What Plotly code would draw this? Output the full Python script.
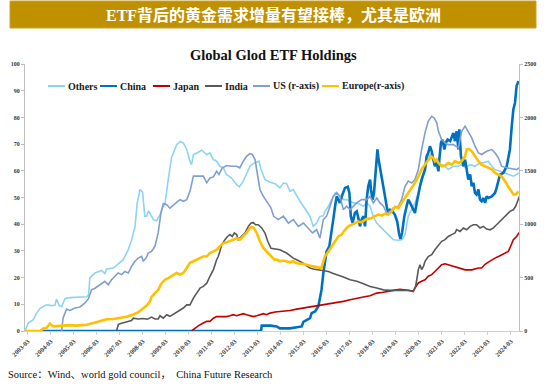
import plotly.graph_objects as go
import pandas as pd

# ---------------- data (decimal year, value) ----------------
others_t = [2003.04, 2003.18, 2003.40, 2003.54, 2003.70, 2003.83, 2003.98, 2004.20, 2004.34, 2004.41,
            2004.53, 2004.63, 2004.78, 2004.99, 2005.40, 2005.72, 2005.80, 2005.86, 2006.08, 2006.37,
            2006.51, 2006.59, 2006.88, 2007.09, 2007.31, 2007.53, 2007.67, 2007.82, 2007.92, 2008.04,
            2008.15, 2008.25, 2008.33, 2008.41, 2008.62, 2008.76, 2008.91, 2009.05, 2009.12, 2009.27,
            2009.41, 2009.63, 2009.78, 2009.92, 2010.07, 2010.21, 2010.28, 2010.36, 2010.50, 2010.72,
            2010.94, 2011.08, 2011.23, 2011.37, 2011.51, 2011.66, 2011.80, 2012.02, 2012.24, 2012.36,
            2012.53, 2012.67, 2012.82, 2012.96, 2013.21, 2013.30, 2013.47, 2013.69, 2013.91, 2014.12,
            2014.27, 2014.41, 2014.56, 2014.70, 2014.85, 2014.99, 2015.14, 2015.28, 2015.43, 2015.57,
            2015.72, 2015.86, 2016.01, 2016.08, 2016.23, 2016.37, 2016.52, 2016.59, 2016.73, 2016.88,
            2017.02, 2017.17, 2017.31, 2017.46, 2017.60, 2017.75, 2017.89, 2018.04, 2018.18, 2018.33,
            2018.47, 2018.62, 2018.76, 2018.91, 2019.05, 2019.27, 2019.41, 2019.56, 2019.70, 2019.85,
            2019.99, 2020.14, 2020.28, 2020.43, 2020.57, 2020.72, 2020.79, 2020.94, 2021.01, 2021.15,
            2021.30, 2021.44, 2021.66, 2021.88, 2022.02, 2022.17, 2022.39, 2022.60, 2022.82, 2022.96,
            2023.18, 2023.33, 2023.47, 2023.69, 2023.91, 2024.12, 2024.27, 2024.41, 2024.52]
others_v = [0, 3.0, 4.2, 6.7, 8.5, 9.2, 9.8, 9.5, 9.6, 12.0,
            9.5, 9.0, 12.2, 12.5, 12.6, 12.8, 13.5, 20.0, 21.7, 22.7,
            21.5, 23.2, 23.6, 25.2, 26.7, 30.5, 34.0, 39.0, 48.0, 53.0,
            52.0, 43.0, 43.0, 45.0, 41.7, 41.3, 43.6, 46.7, 47.5, 57.0,
            65.0, 69.8, 71.0, 70.5, 68.0, 63.6, 62.3, 66.0, 66.7, 67.7,
            66.0, 66.7, 64.2, 63.6, 61.7, 61.1, 58.6, 57.3, 54.8, 54.0,
            56.1, 58.6, 61.7, 62.7, 63.6, 60.5, 56.7, 55.7, 55.2, 53.6,
            55.4, 55.2, 52.3, 53.0, 50.4, 48.6, 46.7, 44.8, 42.9, 39.2,
            40.4, 42.9, 43.2, 44.8, 46.7, 49.2, 51.7, 52.0, 50.4, 49.2,
            49.2, 48.6, 48.0, 48.0, 47.3, 46.7, 48.0, 46.7, 42.9, 40.4,
            39.2, 37.9, 36.7, 35.4, 34.2, 34.0, 34.2, 36.0, 43.0, 45.5,
            48.0, 51.7, 55.5, 60.5, 65.4, 66.7, 64.2, 63.0, 61.7, 62.3,
            61.7, 60.5, 61.7, 61.7, 62.3, 61.1, 62.3, 61.7, 63.0, 63.0,
            63.6, 61.7, 60.5, 59.8, 59.2, 58.6, 58.0, 58.6, 59.2]

china_t = [2003.80, 2013.30, 2013.33, 2013.70, 2013.98, 2014.12, 2014.56, 2014.85, 2015.07, 2015.14,
           2015.28, 2015.43, 2015.50, 2015.65, 2015.79, 2015.86, 2015.93, 2016.01, 2016.08, 2016.15,
           2016.27, 2016.37, 2016.44, 2016.52, 2016.59, 2016.66, 2016.73, 2016.81, 2016.88, 2016.95,
           2017.07, 2017.14, 2017.20, 2017.28, 2017.38, 2017.46, 2017.53, 2017.60, 2017.67, 2017.75,
           2017.82, 2017.89, 2017.96, 2018.04, 2018.08, 2018.15, 2018.21, 2018.30, 2018.36, 2018.41,
           2018.50, 2018.59, 2018.69, 2018.76, 2018.83, 2018.91, 2019.02, 2019.12, 2019.22, 2019.30,
           2019.36, 2019.43, 2019.53, 2019.63, 2019.70, 2019.78, 2019.85, 2019.99, 2020.07, 2020.14,
           2020.21, 2020.28, 2020.36, 2020.43, 2020.50, 2020.57, 2020.645, 2020.72, 2020.79, 2020.86,
           2020.94, 2021.01, 2021.05, 2021.12, 2021.18, 2021.27, 2021.33, 2021.41, 2021.52, 2021.59,
           2021.66, 2021.73, 2021.80, 2021.88, 2021.92, 2021.99, 2022.10, 2022.17, 2022.24, 2022.31,
           2022.39, 2022.46, 2022.53, 2022.60, 2022.67, 2022.75, 2022.82, 2022.89, 2022.96, 2023.04,
           2023.11, 2023.18, 2023.33, 2023.47, 2023.54, 2023.62, 2023.69, 2023.83, 2023.98, 2024.05,
           2024.12, 2024.20, 2024.27, 2024.34, 2024.41, 2024.49]
china_v = [0, 0, 2.0, 2.0, 1.7, 1.0, 1.0, 1.3, 1.7, 3.4,
           4.2, 4.8, 6.7, 7.3, 9.2, 11.7, 15.4, 21.7, 26.7, 29.8,
           31.7, 36.7, 41.7, 46.7, 50.4, 49.2, 48.0, 50.4, 52.3, 53.6,
           54.0, 51.7, 43.0, 40.5, 44.2, 44.8, 42.3, 39.2, 41.7, 43.0,
           39.2, 49.2, 54.2, 56.7, 53.0, 49.2, 51.7, 61.7, 68.0, 64.2,
           59.2, 54.2, 50.4, 46.7, 44.2, 45.4, 44.8, 43.5, 41.0, 36.5,
           34.5, 36.7, 43.0, 46.7, 49.2, 48.0, 46.7, 44.2, 48.0, 51.7,
           54.2, 56.7, 59.2, 60.5, 65.4, 66.7, 69.2, 67.3, 64.2, 61.7,
           63.0, 59.8, 64.2, 70.5, 71.7, 68.0, 70.5, 71.7, 71.1, 72.9,
           74.2, 71.1, 74.8, 68.0, 75.5, 65.4, 61.7, 64.2, 60.5, 56.7,
           58.6, 54.2, 55.5, 51.7, 51.1, 53.0, 49.2, 48.6, 49.8, 48.0,
           50.4, 49.8, 50.4, 51.7, 53.6, 56.7, 58.6, 59.2, 61.7, 64.8,
           68.0, 76.7, 83.0, 85.4, 91.7, 93.6]

japan_t = [2010.28, 2010.43, 2010.57, 2010.79, 2010.94, 2011.08, 2011.23, 2011.37, 2011.51, 2011.66,
           2011.80, 2011.95, 2012.09, 2012.24, 2012.38, 2012.53, 2012.67, 2012.82, 2012.96, 2013.11,
           2013.25, 2013.40, 2013.54, 2013.69, 2013.91, 2014.27, 2014.56, 2014.85, 2015.14, 2015.43,
           2015.72, 2016.01, 2016.30, 2016.59, 2016.88, 2017.17, 2017.46, 2017.75, 2018.04, 2018.33,
           2018.62, 2018.91, 2019.12, 2019.34, 2019.56, 2019.78, 2019.92, 2020.02, 2020.14, 2020.28,
           2020.43, 2020.57, 2020.72, 2020.86, 2021.01, 2021.15, 2021.30, 2021.44, 2021.59, 2021.73,
           2021.88, 2022.02, 2022.17, 2022.46, 2022.60, 2022.75, 2022.89, 2023.04, 2023.18, 2023.33,
           2023.47, 2023.62, 2023.76, 2023.91, 2024.05, 2024.12, 2024.27, 2024.41, 2024.53]
japan_v = [0, 1.1, 1.9, 3.0, 3.6, 3.6, 4.8, 5.4, 5.4, 5.2,
           5.4, 5.7, 6.1, 5.7, 6.1, 6.5, 6.1, 5.7, 5.4, 5.7,
           6.1, 6.5, 6.1, 6.7, 7.1, 7.3, 7.7, 8.2, 8.6, 9.0,
           9.5, 9.8, 10.2, 10.7, 11.1, 11.7, 12.1, 12.7, 13.2, 14.2,
           14.5, 14.8, 15.3, 15.6, 15.4, 15.4, 15.0, 16.5, 18.0, 18.6,
           19.2, 20.5, 21.1, 22.3, 23.6, 24.8, 25.2, 24.8, 24.4, 24.2,
           23.6, 23.2, 22.9, 22.9, 23.2, 23.6, 23.6, 25.0, 25.8, 26.7,
           27.3, 27.9, 28.6, 29.2, 29.8, 31.1, 34.2, 35.4, 36.9]

india_t = [2007.02, 2007.10, 2007.24, 2007.46, 2007.67, 2007.75, 2007.96, 2008.18, 2008.36, 2008.54,
           2008.69, 2008.83, 2008.91, 2009.05, 2009.20, 2009.34, 2009.56, 2009.78, 2009.92, 2010.07,
           2010.21, 2010.36, 2010.50, 2010.65, 2010.79, 2010.94, 2011.08, 2011.23, 2011.37, 2011.44,
           2011.51, 2011.59, 2011.73, 2011.84, 2011.95, 2012.05, 2012.14, 2012.24, 2012.31, 2012.46,
           2012.60, 2012.75, 2012.86, 2012.96, 2013.06, 2013.18, 2013.33, 2013.47, 2013.59, 2013.73,
           2013.91, 2014.12, 2014.27, 2014.41, 2014.56, 2014.70, 2014.85, 2014.99, 2015.14, 2015.28,
           2015.43, 2015.57, 2015.79, 2016.01, 2016.23, 2016.44, 2016.66, 2016.88, 2017.17, 2017.46,
           2017.75, 2018.04, 2018.33, 2018.62, 2018.91, 2019.20, 2019.41, 2019.70, 2019.92, 2020.02,
           2020.07, 2020.14, 2020.21, 2020.28, 2020.36, 2020.43, 2020.57, 2020.72, 2020.86, 2021.01,
           2021.15, 2021.30, 2021.44, 2021.59, 2021.73, 2021.80, 2021.95, 2022.10, 2022.24, 2022.39,
           2022.53, 2022.67, 2022.82, 2022.96, 2023.11, 2023.26, 2023.40, 2023.54, 2023.69, 2023.83,
           2023.98, 2024.12, 2024.27, 2024.37, 2024.45, 2024.53]
india_v = [0, 2.5, 2.9, 3.5, 3.9, 4.8, 4.5, 4.7, 4.4, 5.2,
           4.5, 4.5, 5.7, 4.8, 6.1, 5.5, 6.7, 7.7, 8.6, 9.8,
           9.8, 12.3, 14.2, 16.1, 16.7, 17.9, 20.5, 23.0, 26.7, 27.9,
           29.8, 32.3, 34.2, 35.4, 36.1, 35.4, 36.7, 36.1, 34.2, 35.4,
           36.7, 39.2, 40.4, 40.7, 39.8, 39.8, 38.6, 36.7, 33.6, 31.0,
           30.8, 30.4, 29.8, 29.2, 28.2, 27.3, 26.7, 26.1, 25.4, 24.4,
           23.6, 23.2, 22.9, 22.7, 22.3, 21.5, 20.7, 20.2, 19.2, 18.6,
           17.7, 16.7, 16.1, 15.4, 15.2, 15.2, 15.1, 15.2, 14.8, 16.7,
           19.2, 23.0, 24.8, 23.0, 24.2, 26.1, 27.9, 28.6, 30.4, 32.3,
           33.6, 34.2, 35.4, 36.1, 36.7, 38.0, 37.3, 38.6, 37.9, 39.2,
           39.8, 39.8, 38.6, 39.2, 38.2, 37.9, 38.6, 39.8, 41.0, 42.3,
           43.5, 44.8, 45.4, 46.7, 48.5, 50.4]

# US and Europe in tonnes (right axis)
us_t = [2004.63, 2004.70, 2004.85, 2004.99, 2005.21, 2005.43, 2005.65, 2005.79, 2005.93, 2006.08,
        2006.30, 2006.51, 2006.66, 2006.80, 2006.95, 2007.09, 2007.24, 2007.38, 2007.53, 2007.67,
        2007.82, 2007.96, 2008.11, 2008.18, 2008.30, 2008.40, 2008.54, 2008.69, 2008.83, 2008.95,
        2009.05, 2009.20, 2009.34, 2009.49, 2009.63, 2009.78, 2009.92, 2010.07, 2010.21, 2010.36,
        2010.50, 2010.65, 2010.79, 2010.94, 2011.08, 2011.23, 2011.37, 2011.47, 2011.62, 2011.81,
        2012.02, 2012.24, 2012.38, 2012.53, 2012.67, 2012.82, 2012.92, 2013.04, 2013.15, 2013.25,
        2013.40, 2013.54, 2013.73, 2013.85, 2014.05, 2014.27, 2014.49, 2014.70, 2014.92, 2015.14,
        2015.36, 2015.54, 2015.72, 2015.86, 2016.01, 2016.15, 2016.30, 2016.44, 2016.59, 2016.73,
        2016.88, 2017.02, 2017.17, 2017.31, 2017.46, 2017.67, 2017.89, 2018.04, 2018.18, 2018.33,
        2018.47, 2018.62, 2018.76, 2018.91, 2019.05, 2019.27, 2019.41, 2019.56, 2019.70, 2019.85,
        2019.99, 2020.14, 2020.28, 2020.43, 2020.57, 2020.72, 2020.83, 2020.94, 2021.01, 2021.15,
        2021.30, 2021.44, 2021.66, 2021.88, 2022.02, 2022.17, 2022.31, 2022.46, 2022.60, 2022.75,
        2022.89, 2023.11, 2023.33, 2023.47, 2023.62, 2023.76, 2023.98, 2024.20, 2024.41, 2024.52]
us_v = [0, 125, 205, 193, 215, 225, 263, 300, 385, 400,
        433, 465, 433, 480, 513, 543, 528, 558, 543, 605,
        653, 683, 698, 653, 683, 730, 745, 793, 918, 1105,
        1193, 1183, 1150, 1183, 1205, 1230, 1215, 1230, 1308, 1450,
        1450, 1455, 1450, 1388, 1433, 1443, 1495, 1465, 1528, 1550,
        1543, 1543, 1528, 1590, 1635, 1660, 1653, 1605, 1465, 1325,
        1260, 1215, 1153, 1074, 1043, 1075, 1011, 1043, 980, 1011,
        965, 918, 949, 870, 1043, 1075, 1168, 1261, 1293, 1261,
        1136, 1168, 1136, 1168, 1199, 1230, 1230, 1261, 1199, 1245,
        1199, 1168, 1105, 1120, 1153, 1168, 1230, 1355, 1403, 1386,
        1418, 1511, 1699, 1855, 1965, 2011, 1995, 1949, 1870, 1793,
        1761, 1745, 1745, 1715, 1870, 1918, 1870, 1808, 1730, 1668,
        1653, 1683, 1699, 1668, 1620, 1543, 1528, 1518, 1511, 1528]

europe_t = [2003.04, 2003.69, 2003.83, 2003.98, 2004.12, 2004.20, 2004.27, 2004.70, 2004.99, 2005.28,
            2005.72, 2006.01, 2006.30, 2006.59, 2006.88, 2007.17, 2007.46, 2007.75, 2007.96, 2008.18,
            2008.33, 2008.47, 2008.54, 2008.69, 2008.83, 2008.98, 2009.12, 2009.27, 2009.41, 2009.63,
            2009.78, 2009.92, 2010.07, 2010.21, 2010.36, 2010.50, 2010.65, 2010.79, 2010.94, 2011.08,
            2011.23, 2011.37, 2011.51, 2011.66, 2011.80, 2011.95, 2012.09, 2012.24, 2012.38, 2012.53,
            2012.67, 2012.82, 2012.89, 2012.99, 2013.11, 2013.25, 2013.40, 2013.54, 2013.73, 2013.88,
            2013.98, 2014.12, 2014.27, 2014.41, 2014.56, 2014.70, 2014.85, 2014.99, 2015.14, 2015.28,
            2015.43, 2015.57, 2015.72, 2015.86, 2015.93, 2016.01, 2016.08, 2016.23, 2016.37, 2016.52,
            2016.66, 2016.81, 2016.95, 2017.09, 2017.24, 2017.38, 2017.53, 2017.67, 2017.82, 2017.96,
            2018.11, 2018.25, 2018.40, 2018.55, 2018.69, 2018.84, 2018.98, 2019.12, 2019.27, 2019.41,
            2019.56, 2019.70, 2019.85, 2019.99, 2020.14, 2020.28, 2020.43, 2020.57, 2020.69, 2020.79,
            2020.86, 2020.94, 2021.01, 2021.15, 2021.30, 2021.44, 2021.59, 2021.73, 2021.88, 2022.02,
            2022.17, 2022.24, 2022.34, 2022.46, 2022.60, 2022.75, 2022.89, 2023.04, 2023.18, 2023.33,
            2023.47, 2023.62, 2023.76, 2023.91, 2024.05, 2024.20, 2024.27, 2024.38, 2024.49]
europe_v = [0, 0, 23, 30, 70, 55, 43, 50, 55, 50,
            58, 75, 95, 110, 113, 123, 133, 155, 175, 213,
            238, 275, 318, 355, 385, 448, 480, 495, 513, 543,
            528, 543, 590, 638, 653, 668, 683, 698, 698, 730,
            745, 760, 793, 823, 830, 840, 855, 870, 855, 888,
            918, 965, 975, 965, 918, 840, 778, 745, 698, 668,
            668, 653, 660, 653, 643, 653, 635, 630, 630, 620,
            610, 605, 598, 590, 590, 653, 698, 745, 793, 840,
            885, 903, 948, 980, 995, 1010, 1025, 1018, 1043, 1050,
            1058, 1075, 1090, 1080, 1098, 1090, 1120, 1163, 1150, 1200,
            1245, 1293, 1340, 1385, 1448, 1513, 1558, 1605, 1635, 1620,
            1590, 1605, 1573, 1543, 1550, 1573, 1558, 1590, 1573, 1590,
            1635, 1700, 1705, 1683, 1635, 1590, 1558, 1543, 1525, 1513,
            1480, 1465, 1448, 1400, 1355, 1308, 1278, 1278, 1308]

years = list(range(2003, 2025))
tick_labels = [f"{y}-03" for y in years]

# ---------------- helpers ----------------
def to_date(t):
    y = int(t)
    return pd.Timestamp(year=y, month=1, day=1) + pd.Timedelta(days=(t - y) * 365.25)

def dates(ts):
    return [to_date(t) for t in ts]

# plot area in pixels: x 25..519, y 64..331
PL, PR, PT, PB = 25, 519, 64, 331
def px(x):
    return (x - PL) / (PR - PL)
def py(y):
    return (PB - y) / (PB - PT)

SERIF = "Liberation Serif, Times New Roman, Noto Sans CJK SC, serif"

series = [
    ("Others", others_t, others_v, "#8DD3F5", 1.6, "y"),
    ("China", china_t, china_v, "#0070C0", 2.6, "y"),
    ("Japan", japan_t, japan_v, "#C00000", 1.6, "y"),
    ("India", india_t, india_v, "#595959", 1.6, "y"),
    ("US (r-axis)", us_t, us_v, "#7F9ED2", 1.6, "y2"),
    ("Europe(r-axis)", europe_t, europe_v, "#FFC000", 2.6, "y2"),
]

fig = go.Figure()
for name, t, v, color, w, ax in series:
    fig.add_trace(go.Scatter(x=dates(t), y=v, name=name, mode="lines", yaxis=ax,
                             line=dict(color=color, width=w), showlegend=False,
                             hoverinfo="skip"))

# manual legend (compact swatches like the original)
legend_x = [48, 100, 153, 205, 253, 322]
shapes = []
annotations = []
for (name, t, v, color, w, ax), lx in zip(series, legend_x):
    shapes.append(dict(type="line", xref="paper", yref="paper",
                       x0=px(lx), x1=px(lx + 17), y0=py(86), y1=py(86),
                       line=dict(color=color, width=2)))
    annotations.append(dict(text=f"<b>{name}</b>", xref="paper", yref="paper",
                            x=px(lx + 18), y=py(86), xanchor="left", yanchor="middle",
                            showarrow=False, font=dict(family=SERIF, size=10, color="#1a1a1a")))

# header bar
shapes.append(dict(type="rect", xref="paper", yref="paper", x0=px(10), x1=px(536),
                   y0=py(28), y1=py(1), fillcolor="#BF9000", line=dict(color="#C9A227", width=1),
                   layer="below"))
annotations.append(dict(text="<b>ETF背后的黄金需求增量有望接棒，尤其是欧洲</b>", xref="paper", yref="paper",
                        x=px(273), y=py(14.5), xanchor="center", yanchor="middle", showarrow=False,
                        font=dict(family=SERIF, size=16, color="white")))
annotations.append(dict(text="<b>Global Glod ETF Holdings</b>", xref="paper", yref="paper",
                        x=px(273), y=py(55), xanchor="center", yanchor="middle", showarrow=False,
                        font=dict(family=SERIF, size=14.5, color="#111111")))
annotations.append(dict(text="Source：Wind、world gold council，  China Future Research",
                        xref="paper", yref="paper", x=px(6), y=py(374), xanchor="left",
                        yanchor="middle", showarrow=False,
                        font=dict(family=SERIF, size=10.5, color="#111111")))

fig.update_layout(
    width=550, height=384,
    margin=dict(l=PL, r=550 - PR, t=PT, b=384 - PB, pad=0),
    paper_bgcolor="white", plot_bgcolor="white",
    shapes=shapes, annotations=annotations,
    xaxis=dict(type="date", range=[to_date(2003.04), to_date(2024.515)], automargin=False,
               tickmode="array", tickvals=[pd.Timestamp(f"{y}-03-01") for y in years],
               ticktext=tick_labels, tickangle=-45, showgrid=False, zeroline=False,
               showline=True, linecolor="#D0D0D0", linewidth=1,
               ticks="outside", ticklen=3, tickcolor="#D0D0D0",
               tickfont=dict(family=SERIF, size=6.5, color="#404040", weight="bold")),
    yaxis=dict(range=[0, 100], dtick=10, showgrid=False, zeroline=False, automargin=False,
               showline=True, linecolor="#BFBFBF", linewidth=1,
               ticks="outside", ticklen=3, tickcolor="#BFBFBF",
               tickfont=dict(family=SERIF, size=6, color="#333333", weight="bold")),
    yaxis2=dict(range=[0, 2500], dtick=500, overlaying="y", side="right", automargin=False,
                showgrid=False, zeroline=False, showline=True, linecolor="#BFBFBF", linewidth=1,
                ticks="outside", ticklen=3, tickcolor="#BFBFBF",
                tickfont=dict(family=SERIF, size=6, color="#333333", weight="bold")),
)

fig.write_html("out.html",
               config={"displayModeBar": False, "staticPlot": True},
               post_script="document.body.style.margin='0';document.body.style.padding='0';")
